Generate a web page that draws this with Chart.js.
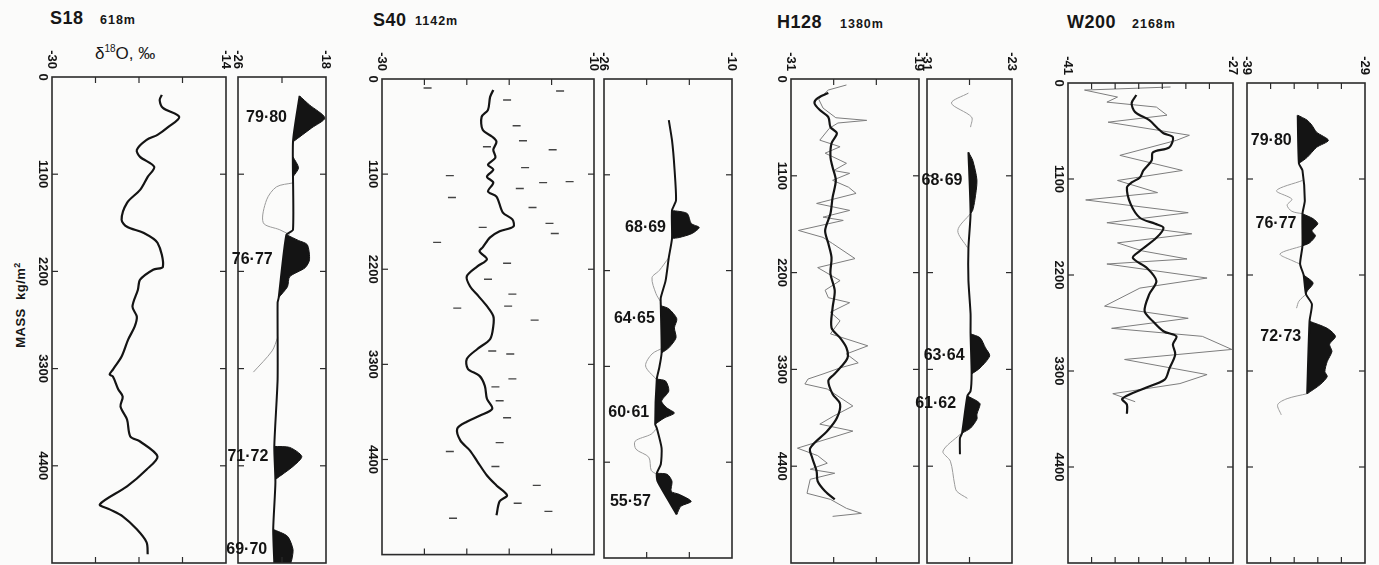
<!DOCTYPE html>
<html>
<head>
<meta charset="utf-8">
<script src="https://cdn.jsdelivr.net/npm/chart.js@4.4.1/dist/chart.umd.min.js"></script>
<style>
  body { margin: 0; width: 1379px; height: 565px; overflow: hidden; position: relative; background: #fbfbfa; font-family: "Liberation Sans", Arial, sans-serif; color: #161616; }
  canvas { position: absolute; }
  .t { position: absolute; font-weight: bold; white-space: nowrap; line-height: 1; }
  .big { font-size: 18px; letter-spacing: 0.5px; }
  .small { font-size: 12.5px; letter-spacing: 1px; }
</style>
</head>
<body>
<div class="t big" style="left:50px;top:9px">S18</div>
<div class="t small" style="left:100px;top:14px">618m</div>
<div class="t big" style="left:373px;top:11px">S40</div>
<div class="t small" style="left:415px;top:15px">1142m</div>
<div class="t big" style="left:777px;top:13px">H128</div>
<div class="t small" style="left:840px;top:18px">1380m</div>
<div class="t big" style="left:1067px;top:13px">W200</div>
<div class="t small" style="left:1132px;top:18px">2168m</div>
<div class="t" style="left:95px;top:44px;font-size:17px;font-weight:normal">δ<sup style="font-size:10px">18</sup>O, ‰</div>
<div class="t" style="left:20px;top:305px;font-size:13px;letter-spacing:0.5px;transform:translate(-50%,-50%) rotate(-90deg)">MASS&nbsp;&nbsp;kg/m<sup style="font-size:9px">2</sup></div>

<script>
// mass axis (kg/m2), shared by every panel
const massTicks = [0, 1100, 2200, 3300, 4400];
const massMax = 5500;

// each point is [mass, d18O]
// ---- S18 ----
const s18Smooth = [[203,-19.9],[260,-20.1],[350,-19.8],[452,-18.3],[565,-19.3],[655,-20.3],[712,-21.3],[825,-22.2],[904,-21.9],[1017,-20.6],[1130,-21.2],[1277,-21.9],[1424,-23.1],[1616,-23.6],[1695,-23.1],[1763,-21.6],[1876,-20.3],[2147,-19.8],[2181,-20.7],[2294,-21.9],[2407,-22.1],[2599,-22.6],[2712,-22.2],[2825,-22.4],[2972,-23.0],[3164,-23.6],[3311,-24.4],[3367,-24.7],[3390,-24.4],[3537,-23.9],[3616,-23.5],[3729,-23.7],[3876,-23.1],[4068,-22.8],[4125,-21.9],[4294,-20.3],[4441,-21.3],[4633,-23.1],[4836,-25.6],[4893,-24.7],[4972,-23.5],[5119,-22.2],[5266,-21.3],[5401,-21.2]];
const s18Base = [[215,-20.4],[734,-21.0],[1729,-21.0],[1785,-21.6],[2497,-22.3],[2554,-22.4],[3424,-22.4],[4181,-22.7],[4588,-22.6],[5119,-22.8],[5500,-22.7]];
const s18Faint = [
  [[1198,-21.0],[1243,-22.5],[1390,-23.4],[1650,-23.7],[1729,-22.2],[1785,-21.3]],
  [[2950,-22.4],[3100,-22.9],[3340,-24.6]]
];
const s18Peaks = [
  {label: '79·80', pts: [[215,-20.4],[316,-19.5],[463,-18.1],[576,-19.3],[734,-21.0]]},
  {label: '', pts: [[904,-21.0],[1028,-20.5],[1130,-21.0]]},
  {label: '76·77', pts: [[1785,-21.6],[1850,-20.5],[1898,-19.7],[2068,-19.5],[2159,-19.9],[2260,-21.3],[2373,-21.5],[2497,-22.3]]},
  {label: '71·72', pts: [[4181,-22.7],[4192,-21.3],[4294,-20.2],[4407,-21.0],[4554,-22.6]]},
  {label: '69·70', pts: [[5119,-22.8],[5198,-21.5],[5345,-21.0],[5458,-21.1],[5500,-21.2]]}
];

// ---- S40 ----
const s40Smooth = [[127,-19.5],[207,-19.8],[357,-20.0],[438,-20.6],[588,-20.5],[668,-19.6],[726,-19.2],[818,-19.5],[910,-19.3],[991,-20.0],[1048,-19.5],[1129,-20.1],[1198,-19.5],[1302,-20.0],[1359,-19.2],[1544,-18.6],[1624,-17.7],[1705,-17.6],[1762,-18.9],[1832,-19.8],[1947,-20.5],[1993,-20.8],[2085,-20.1],[2166,-21.0],[2281,-22.0],[2396,-21.7],[2511,-20.9],[2627,-20.1],[2742,-19.5],[2857,-19.5],[3007,-19.8],[3122,-21.0],[3237,-22.0],[3352,-21.9],[3433,-20.8],[3548,-20.3],[3698,-20.1],[3813,-19.6],[3894,-20.8],[3963,-22.0],[4044,-22.9],[4182,-22.6],[4297,-21.7],[4424,-21.0],[4585,-20.1],[4700,-19.2],[4815,-18.2],[4884,-18.9],[5046,-19.2]];
const s40Raw = [[104,-25.7],[138,-13.2],[242,-18.2],[541,-17.3],[714,-16.7],[783,-20.1],[818,-13.9],[1025,-16.5],[1117,-23.6],[1187,-12.3],[1198,-14.8],[1267,-17.0],[1371,-23.4],[1486,-15.8],[1670,-14.2],[1716,-20.5],[1786,-13.7],[1889,-24.8],[2131,-18.2],[2315,-20.0],[2488,-17.7],[2627,-18.1],[2650,-22.9],[2788,-15.6],[3145,-19.6],[3180,-17.9],[3468,-17.7],[3560,-19.3],[3721,-18.9],[3917,-18.2],[4205,-18.9],[4308,-23.6],[4481,-19.3],[4700,-15.4],[4907,-17.2],[5000,-14.3],[5080,-23.3]];
const s40Base = [[472,-17.9],[703,-17.5],[1014,-17.2],[1394,-17.0],[1509,-17.5],[1832,-17.5],[2050,-17.9],[2315,-18.3],[2511,-18.9],[2603,-18.9],[3145,-18.8],[3318,-19.1],[3445,-19.4],[3963,-19.6],[4009,-19.4],[4239,-18.8],[4424,-18.9],[4527,-19.4],[4620,-19.3],[5000,-16.9]];
const s40Faint = [
  [[2050,-17.9],[2200,-19.1],[2281,-20.0],[2465,-19.5],[2560,-18.9]],
  [[3087,-18.6],[3157,-20.0],[3295,-20.8],[3445,-19.5]],
  [[4009,-19.4],[4078,-20.1],[4158,-22.1],[4251,-22.0],[4343,-20.4],[4493,-20.1],[4539,-19.4]]
];
const s40Peaks = [
  {label: '68·69', pts: [[1509,-17.5],[1544,-15.6],[1659,-15.1],[1705,-14.1],[1774,-15.0],[1820,-16.6],[1832,-17.5]]},
  {label: '64·65', pts: [[2603,-18.9],[2638,-17.9],[2753,-16.9],[2857,-17.2],[2972,-17.0],[3087,-17.9],[3145,-18.8]]},
  {label: '60·61', pts: [[3445,-19.4],[3468,-18.3],[3583,-17.9],[3698,-18.8],[3779,-18.1],[3836,-17.2],[3894,-18.5],[3963,-19.6]]},
  {label: '55·57', pts: [[4527,-19.4],[4539,-18.1],[4619,-17.5],[4735,-17.6],[4769,-16.6],[4850,-15.1],[4907,-16.4],[5000,-16.9]]}
];

// ---- H128 ----
const h128Smooth = [[160,-27.5],[217,-28.5],[274,-28.8],[353,-28.3],[433,-27.5],[547,-27.3],[616,-26.7],[730,-27.2],[889,-27.3],[1003,-27.1],[1151,-26.8],[1345,-27.1],[1528,-27.3],[1721,-27.8],[1870,-27.5],[2029,-27.2],[2212,-27.3],[2405,-26.9],[2599,-27.1],[2827,-27.2],[2941,-26.4],[3055,-25.8],[3169,-25.7],[3283,-26.4],[3360,-27.0],[3431,-27.5],[3580,-27.1],[3694,-26.4],[3853,-26.7],[4001,-27.6],[4195,-29.2],[4309,-29.0],[4457,-28.6],[4571,-28.5],[4685,-27.8],[4777,-26.9]];
const h128Raw = [[68,-25.8],[125,-27.5],[230,-28.4],[330,-28.0],[440,-26.8],[470,-23.9],[500,-26.6],[560,-27.4],[695,-28.3],[770,-26.4],[843,-27.8],[923,-26.4],[958,-25.8],[1040,-27.0],[1072,-25.5],[1151,-27.1],[1230,-25.6],[1300,-24.9],[1414,-28.6],[1493,-25.5],[1570,-28.0],[1607,-26.1],[1721,-30.3],[1800,-28.0],[1870,-27.1],[2041,-25.0],[2143,-28.5],[2291,-26.4],[2400,-27.8],[2485,-27.5],[2542,-25.5],[2650,-27.3],[2747,-26.4],[2896,-27.3],[3032,-23.8],[3124,-25.8],[3226,-24.7],[3283,-26.4],[3352,-28.0],[3409,-29.4],[3466,-29.7],[3523,-27.6],[3716,-25.2],[3830,-27.0],[3922,-28.3],[4001,-25.2],[4195,-30.4],[4280,-28.5],[4366,-27.6],[4435,-29.2],[4480,-26.9],[4549,-29.2],[4708,-29.5],[4777,-27.3],[4879,-25.8],[4936,-24.4],[4970,-27.1]];
const h128Base = [[832,-27.1],[1528,-26.9],[1915,-27.1],[2291,-27.1],[2668,-26.9],[2896,-26.9],[3352,-26.8],[3545,-26.9],[3602,-27.2],[4024,-27.7],[4081,-27.9],[4264,-27.9]];
const h128Faint = [
  [[160,-27.1],[274,-28.7],[433,-26.8],[547,-26.9]],
  [[1528,-26.9],[1721,-28.1],[1915,-27.2]],
  [[4024,-27.7],[4040,-27.9],[4229,-29.5],[4343,-28.8],[4606,-28.4],[4685,-28.2],[4765,-27.2]]
];
const h128Peaks = [
  {label: '68·69', pts: [[832,-27.1],[923,-26.7],[1151,-26.3],[1379,-26.5],[1493,-26.7],[1528,-26.9]]},
  {label: '63·64', pts: [[2896,-26.9],[2941,-26.0],[3055,-25.5],[3146,-25.1],[3283,-26.0],[3352,-26.8]]},
  {label: '61·62', pts: [[3602,-27.2],[3659,-26.3],[3694,-26.0],[3808,-26.3],[3865,-26.3],[3967,-26.9],[4024,-27.7]]}
];

// ---- W200 ----
const w200Smooth = [[138,-35.2],[230,-35.6],[334,-35.3],[426,-34.1],[518,-33.4],[576,-32.9],[622,-32.1],[737,-32.4],[795,-33.8],[887,-33.9],[1002,-34.6],[1083,-34.9],[1140,-35.6],[1198,-36.0],[1382,-35.7],[1544,-34.9],[1613,-33.6],[1659,-32.9],[1774,-33.5],[1924,-34.9],[2004,-35.5],[2120,-34.3],[2269,-33.5],[2419,-34.1],[2615,-34.5],[2730,-33.8],[2845,-32.9],[2903,-31.8],[2995,-32.1],[3110,-31.9],[3272,-32.4],[3398,-32.8],[3502,-34.6],[3617,-36.4],[3686,-36.0],[3790,-36.0]];
const w200Raw = [[46,-32.3],[81,-39.6],[161,-36.8],[219,-37.7],[276,-33.5],[369,-32.6],[449,-37.6],[599,-30.7],[657,-31.8],[829,-36.6],[1002,-31.3],[1117,-36.8],[1256,-33.4],[1340,-39.5],[1486,-30.8],[1601,-37.7],[1728,-30.5],[1832,-36.8],[1924,-34.7],[2016,-30.9],[2074,-37.7],[2235,-29.2],[2350,-34.9],[2557,-37.9],[2696,-30.8],[2811,-37.3],[2903,-29.6],[3053,-27.1],[3168,-36.2],[3341,-29.2],[3444,-31.5],[3560,-37.2],[3652,-35.3]];
const w200Base = [[369,-34.7],[922,-34.6],[1002,-34.3],[1348,-34.1],[1498,-34.3],[1866,-34.3],[2074,-34.5],[2200,-34.2],[2420,-34.0],[2534,-33.5],[2730,-33.7],[3560,-33.9]];
const w200Faint = [
  [[1117,-34.3],[1233,-36.5],[1330,-35.2],[1400,-35.6],[1470,-35.2],[1498,-34.3]],
  [[1866,-34.3],[1958,-36.2],[2039,-35.1],[2074,-34.5]],
  [[2420,-34.0],[2500,-34.6],[2580,-34.8]],
  [[3560,-33.9],[3617,-35.6],[3686,-36.4],[3802,-36.1]]
];
const w200Peaks = [
  {label: '79·80', pts: [[369,-34.7],[426,-33.9],[484,-33.5],[564,-33.1],[657,-32.1],[737,-33.1],[852,-33.9],[922,-34.6]]},
  {label: '76·77', pts: [[1498,-34.3],[1555,-33.4],[1613,-33.0],[1693,-33.5],[1751,-33.2],[1832,-33.7],[1866,-34.3]]},
  {label: '', pts: [[2200,-34.2],[2292,-33.4],[2385,-33.9],[2420,-34.0]]},
  {label: '72·73', pts: [[2730,-33.7],[2811,-32.2],[2903,-31.5],[2995,-32.0],[3076,-31.8],[3191,-32.2],[3306,-32.4],[3364,-32.2],[3456,-32.8],[3560,-33.9]]}
];

const INK = '#141414';
const FONT = '"Liberation Sans", Arial, sans-serif';
const pts = arr => arr.map(([m, v]) => ({x: v, y: m}));

function leftSets(smooth, raw, dashes) {
  const sets = [{data: pts(smooth), borderColor: INK, borderWidth: 2.2, tension: 0.3}];
  if (raw) sets.push({data: pts(raw), borderColor: '#7d7d7d', borderWidth: 1, tension: 0});
  if (dashes) sets.push({data: pts(dashes), showLine: false, pointStyle: 'line', pointRadius: 4,
    pointBorderColor: '#444', pointBorderWidth: 1.4});
  return sets;
}

function rightSets(base, peaks, faint) {
  const sets = [{data: pts(base), borderColor: INK, borderWidth: 2, tension: 0.2}];
  peaks.forEach(p => sets.push({data: pts(p.pts), peakLabel: p.label, borderColor: INK, borderWidth: 1,
    backgroundColor: INK, fill: 0, tension: 0.25}));
  faint.forEach(f => sets.push({data: pts(f), borderColor: '#9a9a9a', borderWidth: 1, tension: 0.3}));
  return sets;
}

// frame, inward ticks, rotated tick labels and peak labels
const framePlugin = {
  id: 'frame',
  afterDraw(chart, args, o) {
    const {ctx, chartArea: a, scales: {x, y}} = chart;
    const seg = (x1, y1, x2, y2) => { ctx.beginPath(); ctx.moveTo(x1, y1); ctx.lineTo(x2, y2); ctx.stroke(); };
    ctx.save();
    ctx.strokeStyle = '#2b2b2b';
    ctx.lineWidth = 1.6;
    ctx.strokeRect(a.left, a.top, a.right - a.left, a.bottom - a.top);
    ctx.lineWidth = 1.2;
    for (let v = x.min + o.step; v < x.max - 1e-6; v += o.step) {
      const px = x.getPixelForValue(v);
      seg(px, a.top, px, a.top + 6);
      seg(px, a.bottom, px, a.bottom - 6);
    }
    massTicks.slice(1).forEach(m => {
      const py = y.getPixelForValue(m);
      seg(a.left, py, a.left + 6, py);
      seg(a.right, py, a.right - 6, py);
    });
    ctx.fillStyle = INK;
    ctx.font = 'bold 13px ' + FONT;
    [x.min, x.max].forEach(v => {
      ctx.save();
      ctx.translate(x.getPixelForValue(v), a.top - 8);
      ctx.rotate(Math.PI / 2);
      ctx.textAlign = 'right';
      ctx.textBaseline = 'middle';
      ctx.fillText(String(v), 0, 0);
      ctx.restore();
    });
    if (o.massLabels) {
      massTicks.forEach(m => {
        ctx.save();
        ctx.translate(a.left - 9, y.getPixelForValue(m));
        ctx.rotate(Math.PI / 2);
        ctx.textAlign = 'center';
        ctx.textBaseline = 'middle';
        ctx.fillText(String(m), 0, 0);
        ctx.restore();
      });
    }
    ctx.font = 'bold 16px ' + FONT;
    ctx.textAlign = 'right';
    ctx.textBaseline = 'middle';
    chart.data.datasets.forEach(ds => {
      if (!ds.peakLabel) return;
      const d = ds.data;
      const top = d.reduce((b, p) => (p.x > b.x ? p : b), d[0]);
      const edge = Math.min(x.getPixelForValue(d[0].x), x.getPixelForValue(d[d.length - 1].x));
      ctx.fillText(ds.peakLabel, edge - 6, y.getPixelForValue(top.y));
    });
    ctx.restore();
  }
};

function panel(box, xr, sets, massLabels) {
  const pl = 40, pr = 8, pt = 40, pb = 2;
  const c = document.createElement('canvas');
  c.width = box[1] - box[0] + pl + pr;
  c.height = box[3] - box[2] + pt + pb;
  c.style.left = (box[0] - pl) + 'px';
  c.style.top = (box[2] - pt) + 'px';
  document.body.appendChild(c);
  new Chart(c, {
    type: 'line',
    data: {datasets: sets},
    options: {
      indexAxis: 'y',
      responsive: false,
      animation: false,
      events: [],
      layout: {padding: {left: pl, right: pr, top: pt, bottom: pb}},
      elements: {point: {radius: 0}},
      plugins: {legend: {display: false}, tooltip: {enabled: false}, frame: {step: xr[2], massLabels}},
      scales: {
        x: {type: 'linear', min: xr[0], max: xr[1], display: false},
        y: {type: 'linear', min: 0, max: massMax, reverse: true, display: false}
      }
    },
    plugins: [framePlugin]
  });
}

// [left, right, top, bottom] in page pixels; [min, max, tick step] in per mil
panel([52, 226, 77, 563], [-30, -14, 4], leftSets(s18Smooth), true);
panel([238, 326, 77, 563], [-26, -18, 4], rightSets(s18Base, s18Peaks, s18Faint), false);
panel([382, 594, 79, 558], [-30, -10, 4], leftSets(s40Smooth, null, s40Raw), true);
panel([604, 732, 79, 558], [-26, -10, 16 / 3], rightSets(s40Base, s40Peaks, s40Faint), false);
panel([791, 919, 79, 563], [-31, -19, 4], leftSets(h128Smooth, h128Raw), true);
panel([927, 1012, 79, 563], [-31, -23, 4], rightSets(h128Base, h128Peaks, h128Faint), false);
panel([1068, 1233, 83, 563], [-41, -27, 2], leftSets(w200Smooth, w200Raw), true);
panel([1247, 1365, 83, 563], [-39, -29, 2], rightSets(w200Base, w200Peaks, w200Faint), false);
</script>
</body>
</html>
